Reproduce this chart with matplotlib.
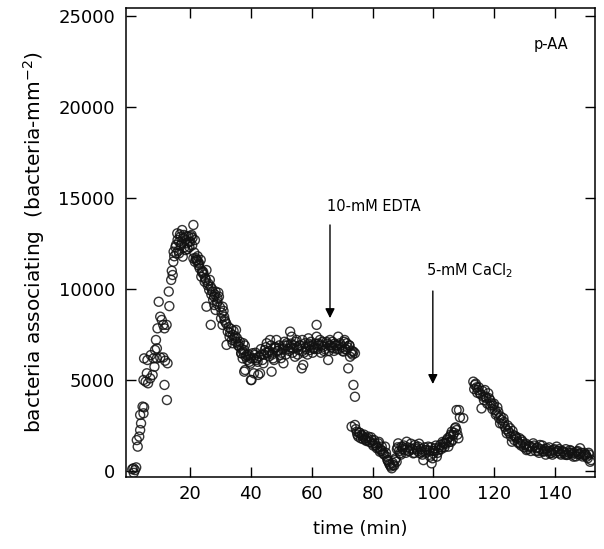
import matplotlib
matplotlib.use("Agg")
import matplotlib.pyplot as plt

# time (min)
time_min = [
    1.0, 1.5, 1.9, 2.3, 1.4, 2.8, 2.5, 3.3, 3.6, 3.9, 3.6, 4.7, 4.4, 4.9,
    4.7, 5.4, 6.2, 5.8, 6.9, 7.7, 4.9, 6.0, 7.1, 8.3, 8.0, 9.1, 8.5, 8.8, 9.1,
    10.2, 11.2, 11.8, 12.6, 11.6, 12.4, 9.3, 10.2, 10.7, 9.7, 11.2, 12.3, 11.6,
    13.2, 13.0, 13.8, 14.3, 14.5, 14.6, 15.4, 15.8, 16.4, 16.9, 17.4, 16.4, 15.5,
    17.6, 18.5, 19.0, 19.5, 20.1, 20.5, 21.1, 21.6, 18.5, 18.0, 17.0, 19.8, 20.8,
    21.1, 22.0, 22.6, 21.6, 23.2, 24.3, 23.7, 25.4, 24.8, 26.3, 26.8, 27.4, 27.9,
    28.4, 29.0, 29.5, 25.4, 26.8, 28.0, 30.7, 28.4, 30.2, 31.2, 30.7, 32.4, 33.0,
    32.0, 34.0, 34.0, 35.1, 35.1, 36.2, 36.8, 37.8, 38.3, 37.3, 40.0, 37.8, 40.0,
    40.5, 41.0, 22.3, 23.0, 24.0, 25.0, 26.0, 27.0, 29.0, 31.6, 33.5, 34.6, 36.0,
    37.5, 36.9, 38.6, 38.1, 40.2, 41.3, 41.8, 42.4, 43.0, 44.1, 44.6, 45.2, 46.3,
    46.8, 47.3, 47.9, 48.4, 49.6, 50.7, 50.7, 51.8, 52.9, 53.4, 54.0, 54.5, 55.6,
    56.7, 57.2, 57.8, 58.9, 59.4, 60.5, 61.6, 61.6, 62.7, 63.8, 65.4, 66.0, 67.1,
    68.7, 69.3, 70.4, 71.5, 72.0, 72.6, 73.7, 74.2, 73.7, 74.2,
    39.0, 39.5, 42.0, 43.5, 45.0, 46.0, 47.0, 48.0, 49.0, 50.0, 51.2, 52.3, 53.0,
    54.8, 55.2, 56.0, 57.0, 58.2, 59.0, 60.0, 61.0, 62.2, 63.2, 64.0, 64.8, 65.8,
    66.5, 67.5, 68.2, 69.0, 70.0, 70.8, 71.2, 72.3, 73.2,
    73.1, 74.2, 74.8, 75.3, 76.4, 77.5, 78.6, 79.7, 80.8, 81.9, 83.0, 83.5, 82.4,
    84.1, 84.6, 85.2, 85.7, 86.3, 86.8, 87.4, 87.9, 88.4, 89.0, 89.5, 90.6, 91.2,
    92.3, 93.4, 93.9, 95.0, 95.6, 96.7, 97.2, 98.3, 98.9, 99.4, 100.0, 100.5,
    101.1, 101.6, 102.2, 103.3, 104.4, 104.9, 105.4, 106.0, 106.5, 107.1, 107.6,
    108.2, 107.6, 108.4, 108.7, 109.8,
    75.8, 76.9, 78.0, 79.2, 80.2, 81.4, 82.8, 85.0, 88.0, 90.0, 91.8, 94.5,
    96.2, 98.0, 99.8, 102.8, 103.8, 105.8,
    113.1, 113.6, 114.7, 115.3, 115.8, 116.4, 116.9, 118.0, 118.6, 119.1, 120.2,
    120.8, 121.3, 121.9, 123.0, 123.5, 124.1, 125.2, 125.8, 126.3, 127.4, 128.0,
    129.0, 130.1, 130.6, 131.7, 132.8, 133.9, 135.0, 136.1, 137.2, 138.3, 139.4,
    140.5, 141.6, 142.7, 143.8, 144.9, 146.0, 147.1, 148.2, 149.3, 150.4, 151.5,
    114.2, 117.4, 119.6, 122.4, 124.6, 126.8, 128.6, 131.2, 134.4, 136.6, 138.8,
    141.0, 143.2, 145.4, 147.6, 149.8, 151.0,
]

# bacteria associating (bacteria-mm^-2)
bacteria = [
    100, -100, 50, 200, 150, 1340, 1700, 1890, 2250, 2620, 3080, 3170, 3540, 3500,
    5000, 4910, 4820, 5370, 5090, 5280, 6190, 6100, 6370, 5730, 6190, 6190, 6650, 7200, 6740,
    6240, 6240, 6060, 5920, 4730, 3900, 7840, 8480, 8300, 9300, 8030, 8030, 7840,
    9060, 9860, 10500, 10770, 11500, 12050, 12420, 13060, 12600, 12880, 13240, 11960, 11960,
    11780, 12140, 12510, 12880, 12600, 12970, 13520, 12690, 12690, 12970, 12400, 12300, 12800,
    11680, 11590, 11500, 11500, 11130, 10950, 10680, 11040, 10400, 9950, 10130, 9860, 9580,
    9860, 9500, 9580, 9030, 8030, 9120, 9030, 8850, 8390, 8480, 8030, 7660, 7380,
    6930, 7470, 7020, 7750, 7100, 6830, 6470, 6650, 6280, 6190, 6190, 5460, 5000,
    6470, 5370, 11600, 11400, 10900, 10600, 10300, 9700, 9300, 8200, 7800, 7300, 7000,
    7020, 6470, 6380, 5550, 5000, 6380, 6100, 5280, 5370, 5920, 6650, 7020, 7200,
    5460, 6190, 6740, 7200, 6380, 6740, 5920, 7020, 7660, 7380, 6740, 6280, 6650,
    5640, 5830, 7020, 7290, 6650, 6740, 8030, 7380, 7200, 6830, 6100, 7200, 6740,
    7380, 7020, 6560, 7020, 5640, 6280, 6560, 6470, 4730, 4080,
    6300, 6000, 6200, 6400, 6500, 6600, 6400, 6800, 6600, 6500, 6900, 6700, 6800,
    7100, 6800, 6900, 6600, 6700, 7000, 6900, 6700, 7000, 6900, 6600, 7100, 6900,
    6800, 7000, 6900, 6700, 6800, 7200, 6700, 6900, 6600,
    2440, 2530, 2160, 1890, 1980, 1800, 1890, 1700, 1520, 1520, 1340, 970, 1060,
    1340, 790, 510, 330, 150, 330, 600, 510, 1520, 970, 1340, 1150, 1610,
    1250, 970, 1430, 1340, 970, 600, 1150, 1340, 790, 420, 970, 1250,
    790, 1150, 1430, 1520, 1700, 1340, 1890, 2160, 1980, 2350, 2250,
    1800, 3350, 3350, 2950, 2900,
    2100, 1750, 1650, 1600, 1400, 1250, 1100, 600, 1200, 1300, 1100, 1200,
    1050, 1150, 1100, 1300, 1550, 1600,
    4910, 4730, 4450, 4270, 3440, 4080, 4450, 4270, 3900, 3720, 3350,
    3170, 3260, 2620, 2900, 2440, 2070, 2350, 1610, 1980, 1800, 1520,
    1700, 1430, 1150, 1340, 1520, 1250, 1430, 1060, 1250, 970, 1150,
    1340, 970, 1060, 880, 1150, 790, 1060, 1250, 880, 790, 510,
    4600, 4000, 3600, 2800, 2200, 1900, 1500, 1300, 1100, 1200, 1000,
    1100, 900, 1000, 950, 900, 1000,
]

# further readings in the densely packed stretches: (time min, bacteria-mm^-2)
dense_readings = [
    (14.0, 11000), (14.8, 11800), (15.2, 12300), (15.9, 12700), (16.2, 12100),
    (16.7, 13000), (17.2, 12500), (17.8, 12800), (18.2, 12300), (18.8, 12900),
    (19.2, 12200), (19.6, 12600), (20.3, 12900), (20.7, 12400), (21.4, 12000),
    (21.9, 11700), (22.5, 11800),
    (22.8, 11300), (23.5, 11600), (23.9, 11000), (24.5, 10800), (25.2, 10500),
    (25.8, 10200), (26.5, 10500), (27.2, 10000), (27.6, 9400), (28.2, 9700),
    (28.8, 9200), (29.3, 9800), (29.8, 9000), (30.4, 8700), (31.0, 8800),
    (31.4, 8300), (31.9, 8100), (32.7, 7900), (33.2, 7600), (33.8, 7200),
    (34.3, 7700), (34.9, 7400), (35.4, 7300), (35.8, 6900), (36.4, 7100),
    (37.0, 6700), (37.6, 6500), (38.0, 6900), (38.8, 6100), (39.3, 6400),
    (39.8, 5900), (40.8, 6200), (41.5, 6500), (42.2, 6000),
    (42.7, 6300), (43.3, 6700), (43.8, 6100), (44.4, 6400), (44.9, 6800),
    (45.5, 6500), (46.0, 6300), (46.6, 6900), (47.1, 6500), (47.6, 6100),
    (48.2, 6800), (48.7, 6600), (49.3, 6900), (49.9, 6200), (50.4, 6700),
    (51.0, 7100), (51.5, 6400), (52.0, 6900), (52.6, 6600), (53.2, 7000),
    (53.7, 6500), (54.2, 6900), (55.0, 7200), (55.4, 6400), (56.3, 6900),
    (56.9, 7200), (57.4, 6500), (58.0, 6800), (58.6, 6400), (59.2, 6900),
    (59.7, 7100), (60.3, 6500), (60.8, 6800), (61.3, 7000), (61.9, 6700),
    (62.4, 6900), (63.0, 6500), (63.5, 7100), (64.3, 6700), (65.0, 7000),
    (65.6, 6600), (66.3, 6900), (66.8, 7100), (67.3, 6600), (67.8, 6900),
    (68.4, 6700), (69.6, 6900), (70.2, 6600), (70.6, 7100), (71.0, 6700),
    (71.8, 6800), (72.4, 6900), (72.9, 6500), (73.4, 6400),
    (74.5, 2300), (75.0, 2000), (75.6, 2100), (76.1, 1800), (76.7, 1900),
    (77.2, 2000), (77.8, 1700), (78.3, 1800), (79.0, 1600), (79.5, 1850),
    (80.0, 1500), (80.5, 1700), (81.1, 1400), (81.6, 1300), (82.1, 1600),
    (82.6, 1200), (83.3, 1100), (83.8, 900), (84.4, 1000), (84.9, 600),
    (85.5, 400), (86.0, 250), (86.6, 450), (87.1, 300), (87.6, 700),
    (88.2, 1300), (88.7, 1100), (89.3, 900), (89.8, 1200), (90.3, 1400),
    (90.9, 1000), (91.5, 1300), (92.0, 1100), (92.6, 1500), (93.1, 1200),
    (93.7, 1000), (94.2, 1300), (94.8, 1100), (95.3, 1500), (95.9, 1200),
    (96.4, 900), (97.0, 1300), (97.5, 1000), (98.6, 1100), (99.1, 1300),
    (99.7, 700), (100.3, 1100), (100.8, 1400), (101.4, 1000), (101.9, 1300),
    (102.5, 1200), (103.0, 1600), (103.6, 1300), (104.1, 1500), (104.7, 1800),
    (105.2, 1600), (105.7, 2000), (106.3, 1700), (106.8, 2100), (107.3, 2400),
    (107.9, 2000),
    (113.4, 4500), (113.9, 4800), (114.4, 4300), (114.9, 4600), (115.6, 4200),
    (116.1, 4400), (116.6, 3900), (117.1, 4100), (117.7, 3700), (118.3, 4000),
    (118.8, 3600), (119.4, 3400), (119.9, 3700), (120.5, 3100), (121.0, 3500),
    (121.6, 2900), (122.1, 3000), (122.7, 2600), (123.2, 2700), (123.8, 2300),
    (124.4, 2500), (124.9, 2100), (125.5, 1900), (126.0, 2200), (126.6, 1700),
    (127.1, 1900), (127.7, 1600), (128.3, 1800), (128.8, 1400), (129.3, 1600),
    (129.8, 1300),
    (130.4, 1500), (130.9, 1200), (131.4, 1400), (132.0, 1100), (132.5, 1300),
    (133.1, 1400), (133.6, 1100), (134.2, 1300), (134.7, 1000), (135.3, 1200),
    (135.8, 1400), (136.4, 1100), (136.9, 900), (137.5, 1100), (138.0, 1300),
    (138.6, 1100), (139.1, 900), (139.7, 1200), (140.2, 1000), (140.8, 1100),
    (141.3, 1200), (141.9, 900), (142.4, 1100), (143.0, 1000), (143.5, 1200),
    (144.1, 900), (144.6, 1000), (145.2, 1100), (145.7, 900), (146.3, 1000),
    (146.8, 800), (147.4, 1100), (147.9, 900), (148.5, 1000), (149.0, 800),
    (149.6, 1000), (150.1, 900), (150.7, 700), (151.2, 900), (151.8, 600),
]

# annotation labels
edta_label = '10-mM EDTA'
cacl2_label = r'5-mM CaCl$_2$'
panel_label = 'p-AA'

all_time = time_min + [p[0] for p in dense_readings]
all_bacteria = bacteria + [p[1] for p in dense_readings]

plt.rcParams['font.family'] = ['DejaVu Sans']

fig = plt.figure(figsize=(6.04, 5.49), dpi=100)
ax = fig.add_axes([0.2086, 0.1311, 0.7765, 0.8543])

ax.scatter(all_time, all_bacteria, s=42, facecolors='none', edgecolors='#111111',
           linewidths=1.0, alpha=0.85, zorder=3)

ax.set_xlim(-1.05, 153.1)
ax.set_ylim(-330, 25440)
ax.set_xticks([20, 40, 60, 80, 100, 120, 140])
ax.set_yticks([0, 5000, 10000, 15000, 20000, 25000])
ax.tick_params(direction='in', length=7, width=1.0, top=True, right=True,
               labelsize=13)
ax.tick_params(axis='y', pad=8)
ax.tick_params(axis='x', pad=6)
for s in ax.spines.values():
    s.set_linewidth(1.1)

ax.set_xlabel('time (min)', fontsize=13, labelpad=12)
ax.set_ylabel(r'bacteria associating  (bacteria-mm$^{-2}$)', fontsize=14.5, labelpad=8)

ax.annotate('', xy=(66, 8400), xytext=(66, 13520),
            arrowprops=dict(arrowstyle='-|>', color='black', lw=1.0,
                            mutation_scale=14, shrinkA=0, shrinkB=0))
ax.text(64.9, 14560, edta_label, fontsize=10.5, ha='left', va='center')

ax.annotate('', xy=(99.8, 4780), xytext=(99.8, 9890),
            arrowprops=dict(arrowstyle='-|>', color='black', lw=1.0,
                            mutation_scale=14, shrinkA=0, shrinkB=0))
ax.text(97.7, 11000, cacl2_label, fontsize=10.5, ha='left', va='center')

ax.text(132.8, 23460, panel_label, fontsize=10.5, ha='left', va='center')

fig.savefig('out.png', dpi=100)
